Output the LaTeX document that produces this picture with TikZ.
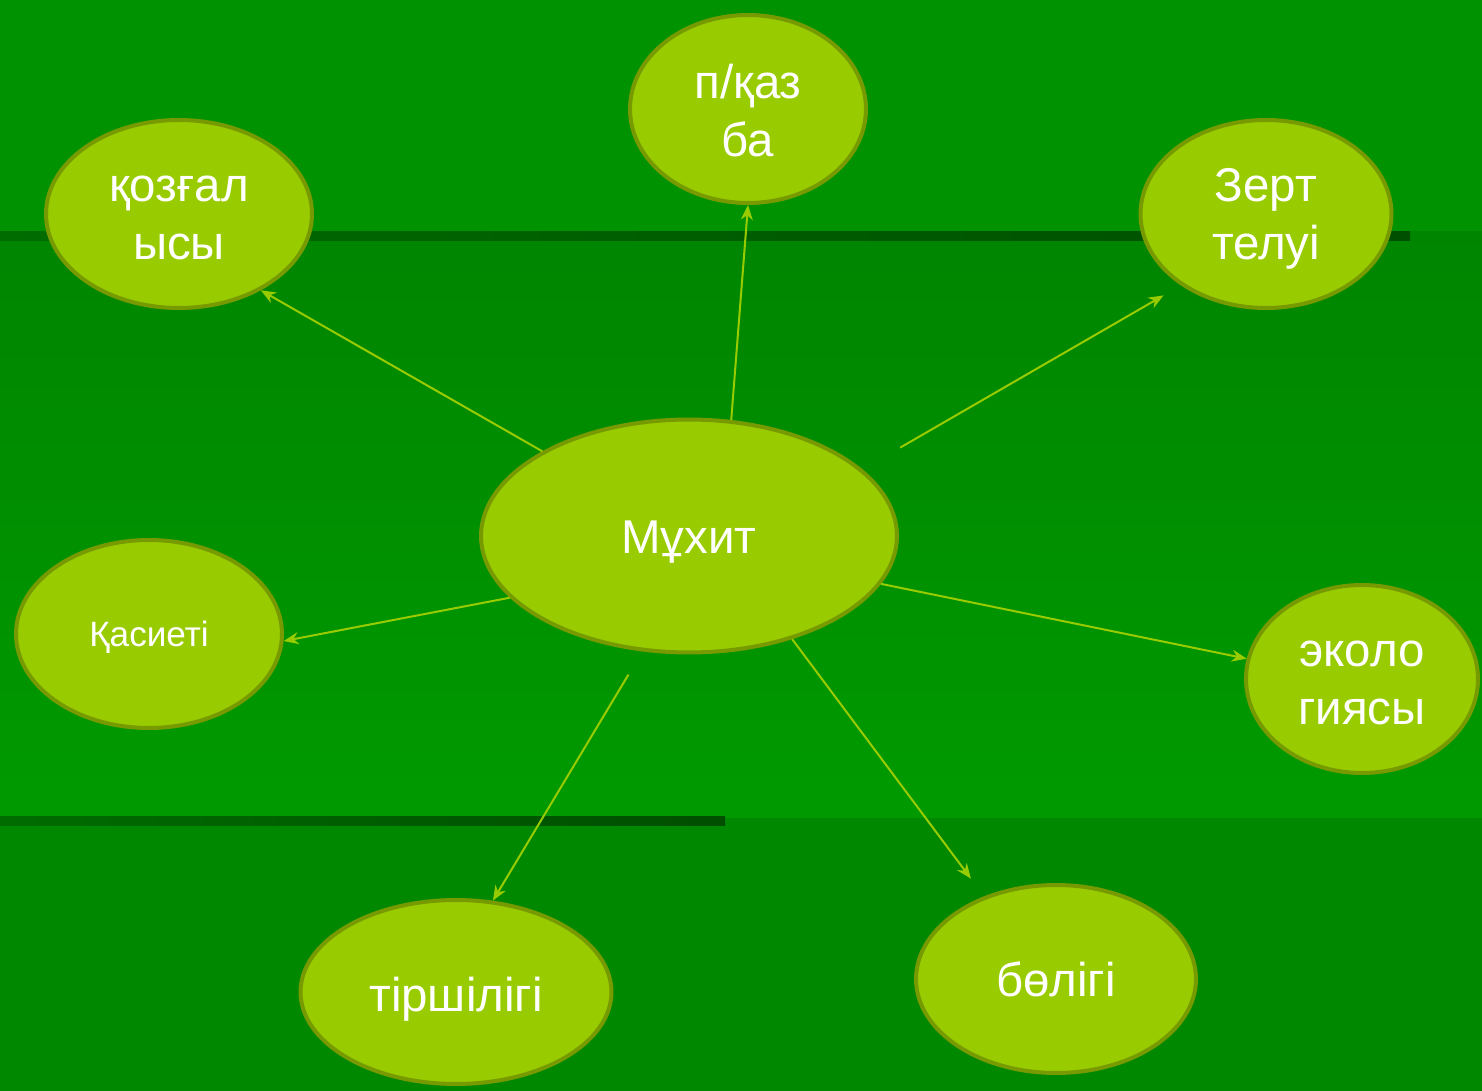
\documentclass[tikz,border=0pt]{standalone}
\usepackage{fontspec}
\setmainfont{Liberation Sans}
\usetikzlibrary{arrows.meta,shapes.geometric}
\definecolor{leaf}{HTML}{99CC00}
\definecolor{rim}{HTML}{779A00}
\definecolor{topgreen}{HTML}{009200}
\definecolor{midtop}{HTML}{008500}
\definecolor{midbot}{HTML}{009A00}
\definecolor{lowgreen}{HTML}{008800}
\definecolor{barleft}{HTML}{006C00}
\definecolor{barright}{HTML}{004E00}
\newcommand\lowr[2][2.5pt]{\raisebox{-#1}[\height][\depth]{#2}}

\begin{document}
\begin{tikzpicture}[x=0.02cm,y=-0.02cm,
    bub/.style={ellipse,draw=rim,fill=leaf,line width=0.08cm,inner sep=0pt,text=white,align=center,font=\fontsize{27}{33}\selectfont},
    arr/.style={draw=leaf,line width=0.04cm,-{Stealth[length=0.3cm,width=0.24cm]}}]
    \useasboundingbox (0,0) rectangle (1482,1091);
    \fill[topgreen] (0,0) rectangle (1482,232);
    \shade[top color=midtop,bottom color=midbot] (0,232) rectangle (1482,818);
    \fill[lowgreen] (0,818) rectangle (1482,1091);
    \shade[left color=barleft,right color=barright] (0,232) rectangle (1410,241);
    \shade[left color=barleft,right color=barright] (0,816) rectangle (725,825);

    \node[bub,minimum width=8.32cm,minimum height=4.66cm] (m) at (689,536) {\lowr[3.5pt]{Мұхит}};
    \node[bub,minimum width=4.72cm,minimum height=3.76cm] (p) at (748,109) {\lowr[1pt]{п/қаз}\\\lowr[1pt]{ба}};
    \node[bub,minimum width=5.32cm,minimum height=3.76cm] (k) at (179,214) {\lowr{қозғал}\\\lowr{ысы}};
    \node[bub,minimum width=5.02cm,minimum height=3.76cm] (z) at (1266,214) {\lowr{Зерт}\\\lowr{телуі}};
    \node[bub,minimum width=5.32cm,minimum height=3.76cm,font=\fontsize{20}{24}\selectfont] (q) at (149,634) {\lowr[2pt]{Қасиеті}};
    \node[bub,minimum width=4.64cm,minimum height=3.76cm] (e) at (1362,679) {\lowr{эколо}\\\lowr{гиясы}};
    \node[bub,minimum width=6.22cm,minimum height=3.68cm] (t) at (456,992) {\lowr[4pt]{тіршілігі}};
    \node[bub,minimum width=5.6cm,minimum height=3.76cm] (b) at (1056,979) {бөлігі};

    \draw[arr] (m.70) -- (p.south);
    \draw[arr] (m.150) -- (k.317);
    \draw[arr,shorten <=0.87cm,shorten >=0.4cm] (m.21.6) -- (z.220);
    \draw[arr] (m.199) -- (q.357);
    \draw[arr] (m.346) -- (e.170);
    \draw[arr,shorten <=0.54cm] (m.248) -- (t.68);
    \draw[arr,shorten >=0.44cm] (m.315) -- (b.131);
\end{tikzpicture}
\end{document}
